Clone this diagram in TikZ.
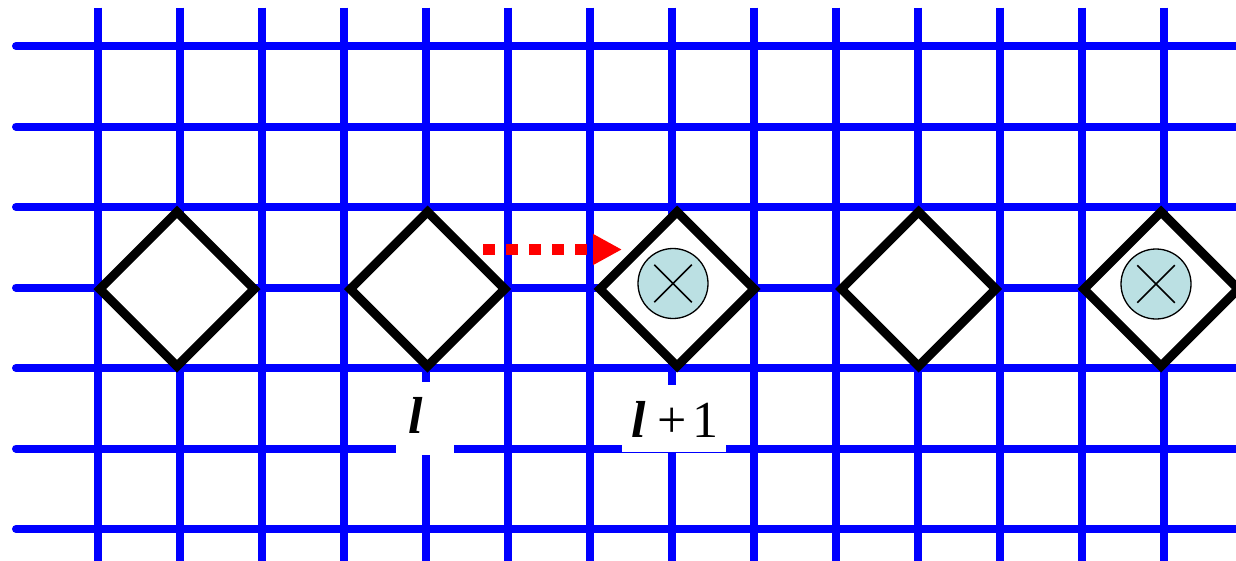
\documentclass[tikz,border=0pt]{standalone}
\usepackage{fontspec}
\setmainfont{Liberation Serif}
\usetikzlibrary{shapes.geometric,shapes.misc,arrows.meta}
\definecolor{gridblue}{RGB}{0,0,255}
\definecolor{cellfill}{RGB}{187,224,227}
\begin{document}
\begin{tikzpicture}[x=1pt,y=-1pt,
  gridline/.style={draw=gridblue,line width=8pt},
  cell/.style={shape=diamond,draw=black,fill=white,line width=9pt,minimum width=158pt,minimum height=158pt,inner sep=0pt,aspect=1},
  site/.style={shape=circle,draw=black,fill=cellfill,line width=1.3pt,minimum size=70pt,inner sep=0pt},
  xmark/.style={shape=cross out,draw=black,line width=1.5pt,minimum size=36pt,inner sep=0pt},
  hop/.style={draw=red,line width=11pt,dash pattern=on 12pt off 11pt,-{Triangle[length=29pt,width=29pt]}},
  lab/.style={fill=white,inner sep=0pt,anchor=base,font=\fontsize{52}{60}\selectfont}
]
\useasboundingbox (0,0) rectangle (1236,560);
% grid
\foreach \k in {0,...,6}
  \draw[gridline,line cap=round] (16,{46+80.5*\k}) -- (1260,{46+80.5*\k});
\foreach \k in {0,...,13}
  \draw[gridline] ({97.5+82*\k},7.5) -- ({97.5+82*\k},580);
% diamonds
\node[cell] (d1) at (177,289) {};
\node[cell] (d2) at (427.5,289) {};
\node[cell] (d3) at (677,289) {};
\node[cell] (d4) at (918.5,289) {};
\node[cell] (d5) at (1161,289) {};
% occupied sites
\node[site] (s3) at (673,283.5) {};
\node[xmark] (x3) at (s3) {};
\node[site] (s5) at (1156,284) {};
\node[xmark] (x5) at (s5) {};
% hop arrow
\coordinate (hopA) at (483,249.5);
\coordinate (hopB) at (622,249.5);
\draw[hop] (hopA) -- (hopB);
% labels
\node[lab,text height=51pt,text depth=22pt] (l1) at (425,433)
  {\makebox[58pt][l]{\hspace{12pt}\textbf{\textit{l}}}};
\node[lab,text height=52.5pt,text depth=14.5pt] (l2) at (674,437.5)
  {\makebox[104pt][l]{\hspace{9pt}\textbf{\textit{l}}\hspace{12pt}+\hspace{6pt}1}};
\end{tikzpicture}
\end{document}
